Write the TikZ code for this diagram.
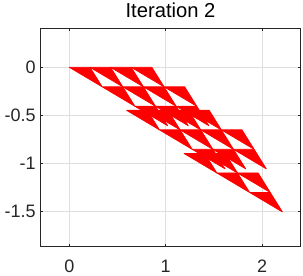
\documentclass[tikz,border=0pt]{standalone}
\usepackage{fontspec}
\setmainfont{Liberation Sans}
\definecolor{axgray}{HTML}{262626}
\definecolor{gridgray}{HTML}{DFDFDF}
\newcommand\drawtooth[2]{\filldraw[fractal] ({#1},{#2}) -- ++(0.214,0) -- ++(0.126,-0.202) -- cycle;}
\begin{document}
\begin{tikzpicture}[x=48.2pt,y=48.2pt,
  fractal/.style={fill=red,draw=red,line width=0.4pt,line join=round},
  gridline/.style={draw=gridgray,line width=0.4pt},
  axisline/.style={draw=axgray,line width=0.5pt},
  ticklabel/.style={font=\fontsize{9}{10}\selectfont,text=axgray,inner sep=0pt},
  titlelabel/.style={font=\fontsize{10.1}{11}\selectfont,text=black,inner sep=0pt}]
\useasboundingbox (-0.719,-2.165) rectangle (2.424,0.698);
% grid
\foreach \gx in {0,1,2} \draw[gridline] (\gx,-1.861) -- (\gx,0.403);
\foreach \gy in {0,-0.5,-1,-1.5} \draw[gridline] (-0.3,\gy) -- (2.4,\gy);
% fractal teeth
\foreach \ox/\oy/\na/\nb/\nc in {0/0/3/3/2,0.595/-0.447/3/3/2,1.19/-0.894/1/1/0}{
  \foreach \i in {0,...,\na}{\drawtooth{\ox+\i*0.214}{\oy}}
  \foreach \i in {0,...,\nb}{\drawtooth{\ox+0.34+\i*0.214}{\oy-0.202}}
  \foreach \i in {0,...,\nc}{\drawtooth{\ox+0.68+\i*0.214}{\oy-0.404}}
}
% axes box
\draw[axisline] (-0.3,-1.861) rectangle (2.4,0.403);
\foreach \gx in {0,1,2}{
  \draw[axisline] (\gx,-1.861) -- ++(0,0.027);
  \draw[axisline] (\gx,0.403) -- ++(0,-0.027);
}
\foreach \gy in {0,-0.5,-1,-1.5}{
  \draw[axisline] (-0.3,\gy) -- ++(0.027,0);
  \draw[axisline] (2.4,\gy) -- ++(-0.027,0);
}
% tick labels
\node[ticklabel,anchor=east] (ylab0) at (-0.345,0) {0};
\node[ticklabel,anchor=east] (ylab1) at (-0.345,-0.5) {-0.5};
\node[ticklabel,anchor=east] (ylab2) at (-0.345,-1) {-1};
\node[ticklabel,anchor=east] (ylab3) at (-0.345,-1.5) {-1.5};
\node[ticklabel] (xlab0) at (0,-2.066) {0};
\node[ticklabel] (xlab1) at (1,-2.066) {1};
\node[ticklabel] (xlab2) at (2,-2.066) {2};
% title
\node[titlelabel,anchor=base] (title) at (1.05,0.515) {Iteration 2};
\end{tikzpicture}
\end{document}
